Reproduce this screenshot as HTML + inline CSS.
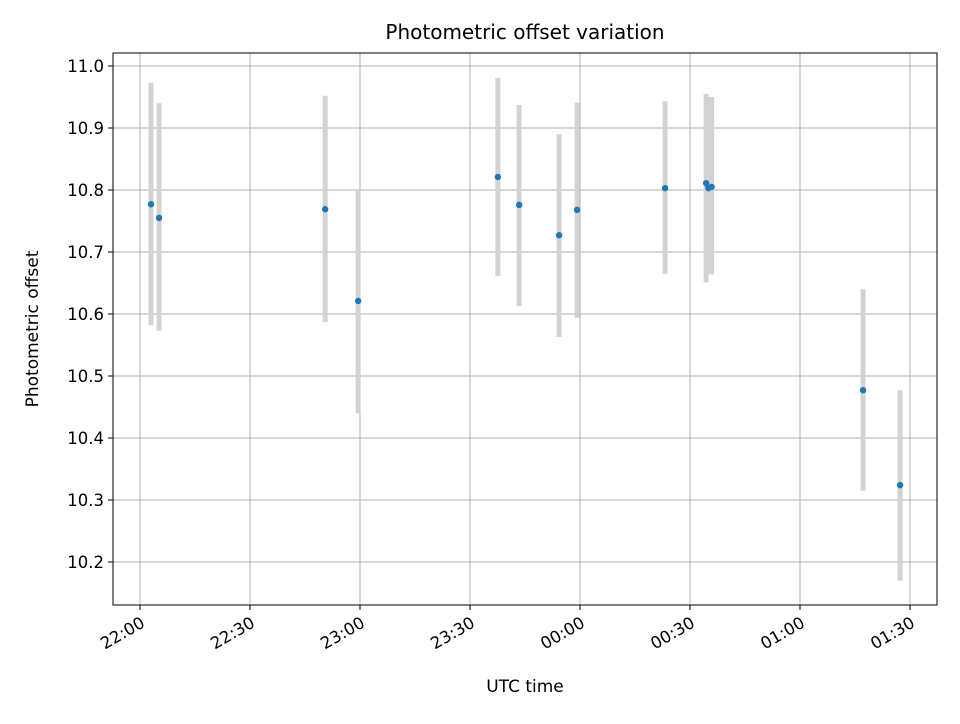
<!DOCTYPE html>
<html><head><meta charset="utf-8"><style>
body{margin:0;background:#fff;font-family:"DejaVu Sans","Liberation Sans",sans-serif}
</style></head><body>
<svg width="960" height="720" xmlns="http://www.w3.org/2000/svg" font-family="DejaVu Sans, Liberation Sans, sans-serif">
<g id="grid"></g>
<g id="bars"></g>
<g id="pts"></g>
<rect x="113" y="53" width="824" height="552" fill="none" stroke="#000" stroke-width="1"/>
<g id="ticks"></g>
<text x="525" y="39" text-anchor="middle" font-size="20">Photometric offset variation</text>
<text x="525" y="692" text-anchor="middle" font-size="17">UTC time</text>
<text transform="translate(38,329) rotate(-90)" text-anchor="middle" font-size="17">Photometric offset</text>
</svg>
<script>
// minutes after 22:00
const times=[3,5.2,50.5,59.5,97.6,103.4,114.3,119.2,143.2,154.4,155,155.9,197.2,207.3];
const values=[10.777,10.755,10.769,10.621,10.821,10.776,10.727,10.768,10.803,10.811,10.803,10.805,10.477,10.324];
const lows=[10.582,10.573,10.587,10.440,10.661,10.613,10.563,10.594,10.665,10.651,10.664,10.664,10.315,10.170];
const highs=[10.973,10.940,10.952,10.800,10.981,10.937,10.890,10.941,10.943,10.955,10.950,10.950,10.640,10.477];
const yTicks=[10.2,10.3,10.4,10.5,10.6,10.7,10.8,10.9,11.0];
const xTickMin=[0,30,60,90,120,150,180,210];
const xTickLabels=["22:00","22:30","23:00","23:30","00:00","00:30","01:00","01:30"];
const NS="http://www.w3.org/2000/svg";
const X=m=>140+m*110/30;
const Y=v=>66+(11.0-v)*620;
function mk(tag,a,parent){const e=document.createElementNS(NS,tag);for(const k in a)e.setAttribute(k,a[k]);document.getElementById(parent).appendChild(e);return e;}
yTicks.forEach((t,i)=>{
 const l=mk('line',{x1:113,x2:937,y1:Y(t),y2:Y(t),stroke:'#b0b0b0','stroke-width':1},'grid');
 
 
 mk('line',{x1:108,x2:113,y1:Y(t),y2:Y(t),stroke:'#000'},'ticks');
 const tx=mk('text',{x:104,y:Y(t)+6,'text-anchor':'end','font-size':16.5},'ticks');
 tx.textContent=t.toFixed(1);
 
 
});
xTickMin.forEach((m,i)=>{
 const l=mk('line',{x1:X(m),x2:X(m),y1:53,y2:605,stroke:'#b0b0b0','stroke-width':1},'grid');
 
 
 mk('line',{x1:X(m),x2:X(m),y1:605,y2:610,stroke:'#000'},'ticks');
 const tx=mk('text',{x:X(m)+6,y:626,'text-anchor':'end','font-size':16.5,transform:`rotate(-30 ${X(m)+6} 626)`},'ticks');
 tx.textContent=xTickLabels[i];
 
 
});
times.forEach((m,i)=>{
 const b=mk('line',{x1:X(m),x2:X(m),y1:Y(highs[i]),y2:Y(lows[i]),stroke:'#d3d3d3','stroke-width':5},'bars');
 
 
});
times.forEach((m,i)=>{
 const c=mk('circle',{cx:X(m),cy:Y(values[i]),r:3.2,fill:'#1f77b4'},'pts');
 
 
});
</script>
</body></html>
